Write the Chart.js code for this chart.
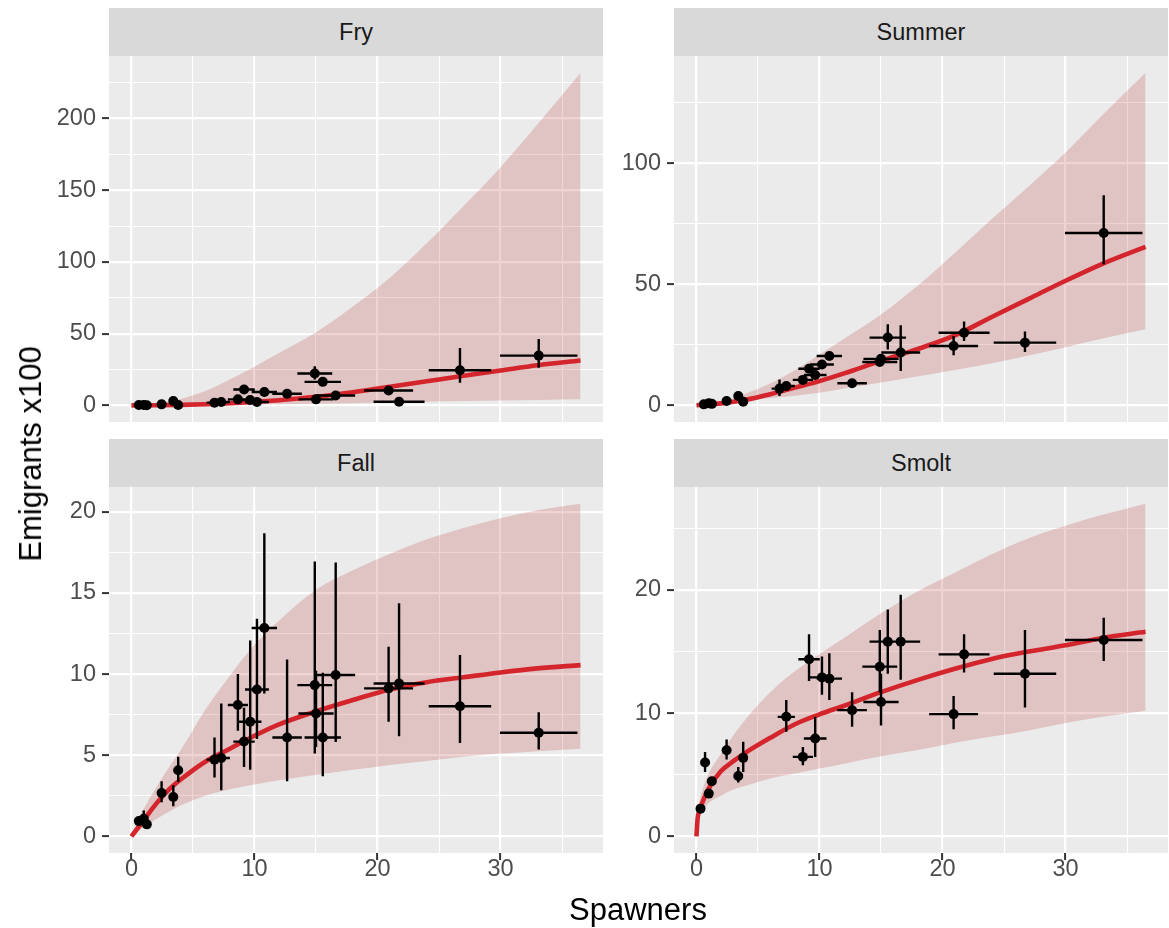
<!DOCTYPE html>
<html>
<head>
<meta charset="utf-8">
<script src="https://cdn.jsdelivr.net/npm/chart.js@4.4.1/dist/chart.umd.min.js"></script>
<style>
  body { margin: 0; background: #fff; }
  #wrap { position: relative; width: 1169px; height: 928px; font-family: "Liberation Sans", Arial, sans-serif; overflow: hidden; }
  canvas { position: absolute; }
  .strip { position: absolute; background: #d9d9d9; color: #1a1a1a; font-size: 23.5px; display: flex; align-items: center; justify-content: center; }
  .title { position: absolute; color: #000; font-size: 31px; white-space: nowrap; transform: translate(-50%, -50%); }
</style>
</head>
<body>
<div id="wrap">
  <div class="strip" style="left:109px;top:8px;width:494px;height:48px">Fry</div>
  <div class="strip" style="left:674px;top:8px;width:494px;height:48px">Summer</div>
  <div class="strip" style="left:109px;top:439px;width:494px;height:48px">Fall</div>
  <div class="strip" style="left:674px;top:439px;width:494px;height:48px">Smolt</div>
  <canvas id="fry" width="603" height="366" style="left:0;top:56px;width:603px;height:366px"></canvas>
  <canvas id="summer" width="558" height="366" style="left:610px;top:56px;width:558px;height:366px"></canvas>
  <canvas id="fall" width="603" height="411" style="left:0;top:487px;width:603px;height:411px"></canvas>
  <canvas id="smolt" width="558" height="411" style="left:610px;top:487px;width:558px;height:411px"></canvas>
  <div class="title" style="left:31px;top:454px;transform:translate(-50%,-50%) rotate(-90deg)">Emigrants x100</div>
  <div class="title" style="left:638px;top:910px">Spawners</div>
</div>
<script>
Chart.defaults.font.family = '"Liberation Sans", Arial, sans-serif';
Chart.defaults.font.size = 23.5;
Chart.defaults.color = '#4d4d4d';

// tick labels
const xTicks = [0, 10, 20, 30];
const xMinor = [5, 15, 25, 35];
const fryTicks = [0, 50, 100, 150, 200];
const fryMinor = [25, 75, 125, 175, 225];
const summerTicks = [0, 50, 100];
const summerMinor = [25, 75, 125];
const fallTicks = [0, 5, 10, 15, 20];
const fallMinor = [2.5, 7.5, 12.5, 17.5];
const smoltTicks = [0, 10, 20];
const smoltMinor = [5, 15, 25];

// spawners (x) with half-width of the horizontal error bar
const spawners    = [0.6, 1.0, 1.25, 2.45, 3.4, 3.8, 6.75, 7.3, 8.65, 9.15, 9.65, 10.2, 10.8, 12.65, 14.9, 15.0, 15.55, 16.6, 20.9, 21.75, 26.7, 33.1];
const spawnersErr = [0.06, 0.1, 0.12, 0.23, 0.32, 0.36, 0.64, 0.7, 0.82, 0.87, 0.92, 0.97, 1.03, 1.2, 1.42, 1.43, 1.48, 1.58, 1.99, 2.07, 2.54, 3.15];
const smoltSpawners = [0.33, 0.7, 1.0, 1.25, 2.45, 3.4, 3.8, 7.3, 8.65, 9.15, 9.65, 10.2, 10.8, 12.65, 14.9, 15.0, 15.55, 16.6, 20.9, 21.75, 26.7, 33.1];
const smoltSpawnersErr = [0.03, 0.07, 0.1, 0.12, 0.23, 0.32, 0.36, 0.7, 0.82, 0.87, 0.92, 0.97, 1.03, 1.2, 1.42, 1.43, 1.48, 1.58, 1.99, 2.07, 2.54, 3.15];

// emigrants x100 with lower / upper error
const fryY  = [0.2, 0.3, 0.1, 0.7, 3.0, 0.2, 1.9, 2.3, 4.2, 11.1, 3.7, 2.3, 9.3, 8.1, 22.2, 4.2, 16.4, 6.9, 10.4, 2.5, 24.5, 34.7];
const fryLo = [0, 0.1, 0, 0.4, 2.2, 0, 1.5, 1.8, 3.5, 9.8, 3.0, 1.8, 8.3, 7.3, 18.1, 3.3, 15.0, 6.0, 9.3, 1.8, 15.8, 26.2];
const fryHi = [0.4, 0.5, 0.2, 1.0, 3.8, 0.4, 2.3, 2.8, 4.9, 12.5, 4.4, 2.8, 10.3, 8.9, 27.3, 5.1, 17.8, 7.8, 11.5, 3.2, 40.0, 46.3];

const summerY  = [0.4, 0.8, 0.6, 1.8, 3.85, 1.5, 6.9, 8.0, 10.5, 15.1, 12.5, 16.9, 20.4, 9.1, 17.9, 19.2, 28.0, 21.8, 24.5, 30.0, 25.9, 71.2];
const summerLo = [0.2, 0.5, 0.3, 1.4, 3.2, 1.1, 3.8, 7.0, 9.5, 13.6, 11.3, 15.7, 19.0, 8.4, 16.2, 17.7, 23.1, 14.2, 20.7, 26.6, 22.0, 58.3];
const summerHi = [0.6, 1.1, 0.9, 2.2, 4.5, 1.9, 10.7, 9.0, 11.5, 16.6, 13.7, 18.1, 21.8, 9.8, 19.6, 20.7, 33.5, 33.1, 28.6, 34.6, 30.5, 86.8];

const fallY  = [0.94, 1.09, 0.74, 2.67, 2.43, 4.07, 4.73, 4.83, 8.09, 5.84, 7.06, 9.05, 12.84, 6.09, 9.32, 7.57, 6.09, 9.94, 9.12, 9.42, 8.02, 6.38];
const fallLo = [0.7, 0.6, 0.5, 2.1, 1.85, 3.35, 3.62, 2.84, 6.5, 4.28, 4.11, 6.0, 8.8, 3.4, 5.1, 5.5, 3.7, 5.82, 7.06, 6.17, 5.76, 5.35];
const fallHi = [1.2, 1.6, 1.0, 3.4, 3.15, 4.9, 6.09, 8.19, 10.0, 7.92, 12.06, 13.4, 18.68, 10.9, 16.93, 10.2, 10.08, 16.87, 11.69, 14.36, 11.17, 7.65];

const smoltY  = [2.25, 5.99, 3.47, 4.47, 6.99, 4.9, 6.37, 9.7, 6.45, 14.37, 7.94, 12.9, 12.8, 10.24, 13.77, 10.9, 15.8, 15.8, 9.92, 14.77, 13.2, 15.93];
const smoltLo = [2.0, 5.23, 3.2, 4.2, 6.24, 4.37, 5.23, 8.48, 5.77, 12.6, 6.45, 11.5, 11.06, 8.9, 11.7, 9.0, 13.2, 12.7, 8.7, 13.3, 10.46, 14.23];
const smoltHi = [2.5, 6.85, 3.75, 4.75, 7.86, 5.63, 7.67, 11.06, 7.26, 16.4, 9.7, 14.6, 14.85, 11.7, 16.75, 13.2, 18.4, 19.6, 11.4, 16.4, 16.75, 17.75];

// fitted curve and interval
const fitX = [0, 2, 4, 6, 8, 10, 12, 15, 18, 21, 24, 27, 30, 33, 36.5];
const fryFit   = [0, 0.1, 0.35, 0.8, 1.5, 2.4, 3.6, 6.0, 9.2, 13.0, 16.8, 20.6, 24.3, 28.0, 31.3];
const fryUpper = [0, 1.2, 4.5, 10, 18, 27, 36.5, 51, 69, 89, 113, 139, 166, 196, 232];
const fryLower = [0, 0, 0.1, 0.2, 0.4, 0.6, 0.8, 1.1, 1.5, 2.0, 2.5, 3.0, 3.4, 3.8, 4.2];
const summerFit   = [0, 0.8, 2.3, 4.6, 7.3, 10.0, 13.2, 18.4, 23.3, 28.9, 36.5, 44, 51.5, 58.5, 65.5];
const summerUpper = [0, 1.5, 4.8, 9, 14.5, 21, 27.5, 37.5, 49.5, 63, 77, 90.5, 104.5, 120, 137.5];
const summerLower = [0, 0.6, 1.8, 3.0, 4.0, 5.2, 6.9, 9.4, 12.0, 14.6, 17.4, 20.6, 24.0, 27.6, 31.4];

const fallFitX = [0, 0.5, 1, 2, 3, 4, 6, 8, 10, 12, 15, 18, 21, 24, 27, 30, 33, 36.5];
const fallFit   = [0, 0.5, 1.0, 2.0, 2.85, 3.5, 4.6, 5.4, 6.2, 6.9, 7.7, 8.4, 9.05, 9.5, 9.8, 10.1, 10.35, 10.55];
const fallUpper = [0, 0.9, 1.7, 3.0, 4.2, 5.3, 7.8, 9.9, 11.8, 13.3, 15.2, 16.4, 17.4, 18.3, 19.0, 19.6, 20.1, 20.5];
const fallLower = [0, 0.3, 0.55, 1.05, 1.5, 1.9, 2.5, 2.9, 3.2, 3.45, 3.8, 4.1, 4.4, 4.65, 4.9, 5.1, 5.25, 5.4];

const smoltFitX = [0, 0.1, 0.25, 0.5, 1, 2, 3, 4, 6, 8, 10, 12, 15, 18, 21, 24, 27, 30, 33, 36.5];
const smoltFit   = [0, 1.5, 2.1, 2.8, 3.9, 5.3, 6.1, 6.8, 8.0, 9.1, 9.9, 10.6, 11.7, 12.7, 13.6, 14.4, 15.0, 15.5, 16.1, 16.6];
const smoltUpper = [0, 1.8, 2.8, 3.8, 5.1, 6.7, 8.2, 9.5, 11.7, 13.4, 14.8, 16.1, 18.1, 19.9, 21.4, 22.9, 24.2, 25.2, 26.1, 27.0];
const smoltLower = [0, 1.1, 1.6, 2.1, 2.7, 3.3, 3.8, 4.1, 4.7, 5.1, 5.5, 5.9, 6.5, 7.0, 7.6, 8.1, 8.6, 9.2, 9.7, 10.2];

const RED = '#d3252b';
const RIBBON = 'rgba(178,34,34,0.2)';

const panelBg = {
  id: 'panelBg',
  beforeDraw(chart) {
    const { ctx, chartArea: a } = chart;
    ctx.save();
    ctx.fillStyle = '#ebebeb';
    ctx.fillRect(a.left, a.top, a.right - a.left, a.bottom - a.top);
    ctx.restore();
  }
};

function xy(xs, ys) {
  return xs.map((x, i) => ({ x: x, y: ys[i] }));
}

function errorBars(xs, xe, ys, lo, hi) {
  const d = [];
  xs.forEach((x, i) => {
    d.push({ x: x - xe[i], y: ys[i] }, { x: x + xe[i], y: ys[i] }, { x: x, y: null });
    d.push({ x: x, y: lo[i] }, { x: x, y: hi[i] }, { x: x, y: null });
  });
  return d;
}

function axis(major, minor, min, max, opts) {
  const all = major.concat(minor).sort((a, b) => a - b);
  return {
    type: 'linear',
    min: min,
    max: max,
    afterBuildTicks: s => { s.ticks = all.map(v => ({ value: v })); },
    afterFit: s => {
      opts.fit(s);
      // panels sit flush against the strips, no label overhang padding
      s.paddingTop = 0; s.paddingBottom = 0; s.paddingLeft = 0; s.paddingRight = 0;
    },
    border: { display: false },
    grid: {
      color: '#ffffff',
      lineWidth: c => (c.tick && major.includes(c.tick.value)) ? 2.2 : 1.1,
      drawTicks: opts.showTicks,
      tickLength: opts.showTicks ? 7 : 0,
      tickWidth: 2,
      tickColor: c => (c.tick && major.includes(c.tick.value)) ? '#333333' : 'rgba(0,0,0,0)'
    },
    ticks: {
      display: opts.showTicks,
      autoSkip: false,
      maxRotation: 0,
      padding: opts.pad,
      color: '#4d4d4d',
      callback: v => major.includes(v) ? String(v) : ''
    }
  };
}

function panel(id, p) {
  new Chart(document.getElementById(id), {
    type: 'scatter',
    data: {
      datasets: [
        { type: 'scatter', data: xy(p.x, p.y), pointRadius: 5, pointBackgroundColor: '#000', pointBorderWidth: 0, order: 0 },
        { type: 'line', data: errorBars(p.x, p.xe, p.y, p.lo, p.hi), borderColor: '#000', borderWidth: 2.4, pointRadius: 0, spanGaps: false, tension: 0, fill: false, order: 1 },
        { type: 'line', data: xy(p.fx, p.fit), borderColor: RED, borderWidth: 4.6, pointRadius: 0, cubicInterpolationMode: 'monotone', fill: false, order: 2 },
        { type: 'line', data: xy(p.fx, p.upper), borderColor: 'transparent', borderWidth: 0, pointRadius: 0, cubicInterpolationMode: 'monotone', fill: '+1', backgroundColor: RIBBON, order: 3 },
        { type: 'line', data: xy(p.fx, p.lower), borderColor: 'transparent', borderWidth: 0, pointRadius: 0, cubicInterpolationMode: 'monotone', fill: false, order: 4 }
      ]
    },
    options: {
      responsive: false,
      animation: false,
      events: [],
      layout: { padding: 0, autoPadding: false },
      plugins: { legend: { display: false }, tooltip: { enabled: false } },
      scales: {
        x: axis(xTicks, xMinor, -1.825, 38.325, { showTicks: p.showX, pad: -5, fit: s => { s.height = p.showX ? 45 : 0; } }),
        y: axis(p.ticks, p.minor, p.ymin, p.ymax, { showTicks: true, pad: 6, fit: s => { s.width = p.yw; } })
      }
    },
    plugins: [panelBg]
  });
}

panel('fry', { x: spawners, xe: spawnersErr, y: fryY, lo: fryLo, hi: fryHi, fx: fitX, fit: fryFit, upper: fryUpper, lower: fryLower,
  ticks: fryTicks, minor: fryMinor, ymin: -11.6, ymax: 243.6, yw: 109, showX: false });
panel('summer', { x: spawners, xe: spawnersErr, y: summerY, lo: summerLo, hi: summerHi, fx: fitX, fit: summerFit, upper: summerUpper, lower: summerLower,
  ticks: summerTicks, minor: summerMinor, ymin: -6.9, ymax: 144.4, yw: 64, showX: false });
panel('fall', { x: spawners, xe: spawnersErr, y: fallY, lo: fallLo, hi: fallHi, fx: fallFitX, fit: fallFit, upper: fallUpper, lower: fallLower,
  ticks: fallTicks, minor: fallMinor, ymin: -1.025, ymax: 21.525, yw: 109, showX: true });
panel('smolt', { x: smoltSpawners, xe: smoltSpawnersErr, y: smoltY, lo: smoltLo, hi: smoltHi, fx: smoltFitX, fit: smoltFit, upper: smoltUpper, lower: smoltLower,
  ticks: smoltTicks, minor: smoltMinor, ymin: -1.35, ymax: 28.35, yw: 64, showX: true });
</script>
</body>
</html>
